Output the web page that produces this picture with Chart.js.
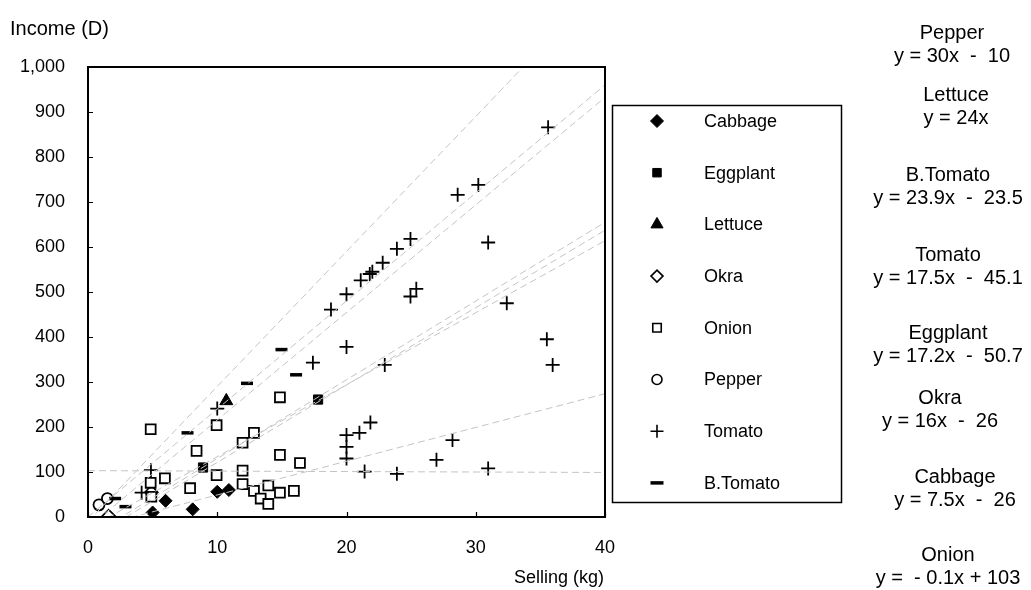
<!DOCTYPE html>
<html><head><meta charset="utf-8">
<script src="https://cdn.jsdelivr.net/npm/chart.js@4/dist/chart.umd.min.js"></script>
<style>html,body{margin:0;padding:0;background:#fff;}canvas{display:block;}</style>
</head><body>
<canvas id="c" width="1031" height="590"></canvas>
<script>
const FONT = "'Liberation Sans', Arial, sans-serif";
const categories = ['Cabbage','Eggplant','Lettuce','Okra','Onion','Pepper','Tomato','B.Tomato'];

const cabbageX = [5, 6, 8.1, 10, 10.9];
const cabbageY = [10, 36, 17, 56, 60];
const eggplantX = [8.9, 14.85, 17.8];
const eggplantY = [110, 138, 261];
const lettuceX = [10.7];
const lettuceY = [258];
const okraX = [1.6, 4.9];
const okraY = [2, 55];
const onionX = [4.85, 4.85, 4.9, 5.95, 7.9, 8.4, 9.95, 9.95, 11.96, 11.96, 11.96, 12.84, 12.84, 13.36, 13.95, 13.95, 14.85, 14.85, 14.85, 15.93, 16.4];
const onionY = [195, 76, 45, 86, 64, 147, 204, 93, 165, 103, 73, 187, 58, 41, 70, 29, 266, 138, 54, 58, 120];
const pepperX = [0.85, 1.5];
const pepperY = [27, 41];
const tomatoX = [4.15, 4.87, 10, 17.4, 18.8, 20, 20, 20, 20, 20, 21, 21.1, 21.4, 21.85, 21.8, 22, 22.8, 22.96, 23.9, 23.9, 24.95, 24.95, 25.4, 26.96, 28.2, 28.6, 30.2, 30.96, 30.96, 32.4, 35.5, 35.95, 35.6];
const tomatoY = [54, 104, 241, 343, 461, 495, 378, 182, 156, 130, 187, 526, 101, 210, 540, 545, 565, 338, 596, 96, 618, 490, 507, 127, 171, 716, 738, 610, 108, 475, 395, 338, 866];
const bTomatoX = [2.1, 2.9, 7.7, 12.3, 14.97, 16.1];
const bTomatoY = [41, 23, 187, 297, 372, 316];

// trendline equations as printed on the right of the chart
const eqCrops = ['Pepper','Lettuce','B.Tomato','Tomato','Eggplant','Okra','Cabbage','Onion'];
const eqSlopes = [30, 24, 23.9, 17.5, 17.2, 16, 7.5, -0.1];
const eqIntercepts = [-10, 0, -23.5, -45.1, -50.7, -26, -26, 103];
const eqTexts = ['y = 30x  -  10','y = 24x','y = 23.9x  -  23.5','y = 17.5x  -  45.1','y = 17.2x  -  50.7','y = 16x  -  26','y = 7.5x  -  26','y =  - 0.1x + 103'];

const xTickValues = [0, 10, 20, 30, 40];
const yTickValues = [0, 100, 200, 300, 400, 500, 600, 700, 800, 900, 1000];
const xRange = [0, 40];

const seriesX = [cabbageX, eggplantX, lettuceX, okraX, onionX, pepperX, tomatoX, bTomatoX];
const seriesY = [cabbageY, eggplantY, lettuceY, okraY, onionY, pepperY, tomatoY, bTomatoY];

const styles = [
  {pointStyle:'rectRot', radius:6.5, bg:'#000', bw:1},
  {pointStyle:'rect', radius:6.5, bg:'#000', bw:1},
  {pointStyle:'triangle', radius:7.5, bg:'#000', bw:1},
  {pointStyle:'rectRot', radius:6.5, bg:'#fff', bw:1.6},
  {pointStyle:'rect', radius:7, bg:'#fff', bw:1.8},
  {pointStyle:'circle', radius:5.5, bg:'#fff', bw:1.8},
  {pointStyle:'cross', radius:7, bg:'#000', bw:1.8},
  {pointStyle:'line', radius:6, bg:'#000', bw:3.5}
];
const legendStyles = [
  {pointStyle:'rectRot', radius:6.5, bg:'#000', bw:1},
  {pointStyle:'rect', radius:6, bg:'#000', bw:1},
  {pointStyle:'triangle', radius:7, bg:'#000', bw:1},
  {pointStyle:'rectRot', radius:6, bg:'#fff', bw:1.6},
  {pointStyle:'rect', radius:6, bg:'#fff', bw:1.6},
  {pointStyle:'circle', radius:5, bg:'#fff', bw:1.6},
  {pointStyle:'cross', radius:6.5, bg:'#000', bw:1.6},
  {pointStyle:'line', radius:6.5, bg:'#000', bw:3.5}
];

const datasets = [];
categories.forEach((name, i) => {
  const st = styles[i];
  datasets.push({
    label: name,
    data: seriesX[i].map((x, k) => ({x: x, y: seriesY[i][k]})),
    pointStyle: st.pointStyle,
    pointRadius: st.radius,
    pointHoverRadius: st.radius,
    pointBackgroundColor: st.bg,
    pointBorderColor: '#000',
    pointBorderWidth: st.bw,
    showLine: false,
    order: 100 - i
  });
});
eqCrops.forEach((name, i) => {
  datasets.push({
    label: name + ' trend',
    data: xRange.map(x => ({x: x, y: eqSlopes[i] * x + eqIntercepts[i]})),
    showLine: true,
    borderColor: '#c4c4c4',
    borderWidth: 1,
    borderDash: [7, 4],
    pointRadius: 0,
    fill: false,
    order: 1
  });
});

const decor = {
  id: 'decor',
  afterDraw(chart) {
    const ctx = chart.ctx;
    const a = chart.chartArea;
    const xs = chart.scales.x, ys = chart.scales.y;
    ctx.save();
    // plot border
    ctx.strokeStyle = '#000';
    ctx.lineWidth = 2;
    ctx.strokeRect(a.left, a.top, a.right - a.left, a.bottom - a.top);
    // inward ticks
    ctx.lineWidth = 1.2;
    ctx.beginPath();
    xTickValues.forEach(v => {
      const px = Math.round(xs.getPixelForValue(v)) + 0.5;
      ctx.moveTo(px, a.bottom); ctx.lineTo(px, a.bottom - 5);
    });
    yTickValues.forEach(v => {
      const py = Math.round(ys.getPixelForValue(v)) + 0.5;
      ctx.moveTo(a.left, py); ctx.lineTo(a.left + 5, py);
    });
    ctx.stroke();
    // axis titles
    ctx.fillStyle = '#000';
    ctx.textBaseline = 'middle';
    ctx.textAlign = 'left';
    ctx.font = '20px ' + FONT;
    ctx.fillText('Income (D)', 10, 29);
    ctx.textAlign = 'right';
    ctx.font = '18px ' + FONT;
    ctx.fillText('Selling (kg)', a.right - 1, 578);
    // legend box
    const lb = {l: 612, t: 105, r: 841, b: 502};
    ctx.lineWidth = 1.5;
    ctx.strokeStyle = '#000';
    ctx.strokeRect(lb.l + 0.5, lb.t + 0.5, lb.r - lb.l, lb.b - lb.t);
    ctx.font = '18px ' + FONT;
    ctx.textAlign = 'left';
    categories.forEach((name, i) => {
      const y = 121 + i * 51.7;
      const st = legendStyles[i];
      ctx.fillStyle = st.bg;
      ctx.strokeStyle = '#000';
      ctx.lineWidth = st.bw;
      Chart.helpers.drawPoint(ctx, {pointStyle: st.pointStyle, radius: st.radius, rotation: 0, borderWidth: st.bw}, 657, y);
      ctx.fillStyle = '#000';
      ctx.fillText(name, 704, y + 1);
    });
    // equations
    ctx.font = '20px ' + FONT;
    ctx.textAlign = 'center';
    const eqY = [33, 95, 175, 255, 333, 398, 477, 555];
    const eqCx = [952, 956, 948, 948, 948, 940, 955, 948];
    eqCrops.forEach((name, i) => {
      ctx.fillText(name, eqCx[i], eqY[i]);
      ctx.fillText(eqTexts[i], eqCx[i], eqY[i] + 23);
    });
    ctx.restore();
  }
};

new Chart(document.getElementById('c'), {
  type: 'scatter',
  data: {datasets: datasets},
  options: {
    responsive: false,
    animation: false,
    devicePixelRatio: 1,
    layout: {padding: {left: 0, top: 67, right: 426, bottom: 0}},
    plugins: {legend: {display: false}, tooltip: {enabled: false}},
    scales: {
      x: {
        type: 'linear', min: 0, max: 40,
        grid: {display: false, drawTicks: false},
        border: {display: false},
        ticks: {padding: 20, color: '#000', font: {family: FONT, size: 18}, maxRotation: 0},
        afterBuildTicks: s => { s.ticks = xTickValues.map(v => ({value: v})); },
        afterFit: s => { s.height = 73; }
      },
      y: {
        type: 'linear', min: 0, max: 1000,
        grid: {display: false, drawTicks: false},
        border: {display: false},
        ticks: {padding: 23, color: '#000', font: {family: FONT, size: 18},
          callback: v => Number(v).toLocaleString('en-US')},
        afterBuildTicks: s => { s.ticks = yTickValues.map(v => ({value: v})); },
        afterFit: s => { s.width = 88; }
      }
    }
  },
  plugins: [decor]
});
</script>
</body></html>
